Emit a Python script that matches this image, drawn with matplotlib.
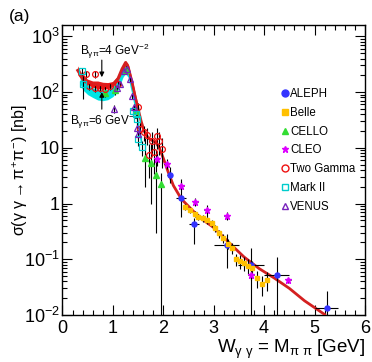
import numpy as np
import matplotlib.pyplot as plt
from matplotlib.lines import Line2D
from matplotlib.ticker import FixedLocator, FixedFormatter, MultipleLocator, NullFormatter

plt.rcParams['font.family'] = ['Liberation Sans', 'DejaVu Sans']
plt.rcParams['mathtext.fontset'] = 'custom'
plt.rcParams['mathtext.rm'] = 'Liberation Sans'
plt.rcParams['mathtext.it'] = 'Liberation Sans'
plt.rcParams['mathtext.bf'] = 'Liberation Sans:bold'

# theory, B = 4 GeV^-2 (red) : band at low W, line everywhere
red_x = [0.30, 0.40, 0.50, 0.60, 0.70, 0.80, 0.90, 1.00, 1.10, 1.18, 1.25, 1.30, 1.38,
         1.45, 1.50, 1.56, 1.62, 1.70, 1.78, 1.85, 1.92, 2.00, 2.10, 2.20, 2.36, 2.60,
         2.80, 3.00, 3.30, 3.60, 3.90, 4.20, 4.50, 4.80, 5.20]
red_y = [245, 175, 150, 137, 132, 128, 128, 138, 175, 260, 340, 290, 150,
         77, 50, 30, 20, 15, 13.5, 12.5, 10, 6.5, 3.6, 2.1, 1.2, 0.72,
         0.5, 0.37, 0.2, 0.11, 0.068, 0.046, 0.03, 0.018, 0.0102]
red_band_x = [0.30, 0.40, 0.50, 0.60, 0.70, 0.80, 0.90, 1.00, 1.10, 1.20, 1.25, 1.30, 1.38, 1.45, 1.50]
red_band_lo = [205, 155, 135, 122, 115, 112, 115, 125, 158, 245, 295, 255, 128, 65, 42]
red_band_hi = [295, 200, 170, 158, 158, 150, 148, 155, 195, 310, 370, 325, 172, 90, 58]

# theory, B = 6 GeV^-2 (cyan band)
cyan_x = [0.35, 0.40, 0.50, 0.60, 0.70, 0.80, 0.90, 1.00, 1.10, 1.20, 1.25, 1.30, 1.38, 1.45, 1.50, 1.55]
cyan_lo = [140, 110, 90, 80, 72, 70, 73, 83, 108, 185, 215, 185, 88, 40, 20, 12]
cyan_hi = [235, 170, 135, 120, 112, 110, 112, 125, 160, 270, 300, 260, 130, 60, 32, 18]

# ALEPH
aleph_x = [2.13, 2.36, 2.61, 3.26, 3.74, 4.25, 5.24]
aleph_y = [3.3, 1.25, 0.43, 0.18, 0.079, 0.052, 0.0133]
aleph_xe = [0.05, 0.10, 0.10, 0.25, 0.25, 0.25, 0.23]
aleph_lo = [2.3, 0.58, 0.19, 0.07, 0.001, 0.001, 0.001]
aleph_hi = [4.6, 2.8, 0.54, 0.28, 0.157, 0.11, 0.027]

# Belle
belle_x = [2.43, 2.53, 2.63, 2.69, 2.78, 2.86, 2.96, 3.03, 3.11, 3.19,
           3.29, 3.36, 3.44, 3.52, 3.60, 3.69, 3.75, 3.85, 3.95, 4.05]
belle_y = [0.87, 0.76, 0.66, 0.58, 0.54, 0.50, 0.44, 0.36, 0.29, 0.24,
           0.19, 0.157, 0.10, 0.093, 0.085, 0.077, 0.069, 0.046, 0.036, 0.043]
belle_rel = [0.12, 0.12, 0.12, 0.13, 0.14, 0.15, 0.15, 0.16, 0.17, 0.18,
             0.2, 0.22, 0.25, 0.27, 0.28, 0.3, 0.32, 0.35, 0.38, 0.38]

# CELLO
cello_x = [0.85, 1.05, 1.25, 1.45, 1.64, 1.75, 1.86, 1.96]
cello_y = [95, 110, 250, 45, 6.5, 5.3, 3.3, 2.27]
cello_lo = [80, 90, 210, 35, 2.0, 1.0, 0.3, 0.001]
cello_hi = [110, 130, 290, 55, 15, 12, 9.0, 3.5]

# CLEO
cleo_x = [1.87, 2.07, 2.36, 2.63, 2.86, 3.26, 3.74, 4.48]
cleo_y = [6.4, 5.2, 2.1, 1.07, 0.76, 0.6, 0.052, 0.042]
cleo_rel = [0.25, 0.2, 0.15, 0.15, 0.25, 0.15, 0.2, 0.1]

# Two Gamma
tg_x = [0.47, 0.53, 0.64, 0.64, 0.75, 0.85, 0.94, 1.10, 1.49, 1.54,
        1.62, 1.67, 1.72, 1.77, 1.82, 1.87, 1.92, 1.97]
tg_y = [209, 126, 116, 210, 118, 112, 126, 139, 53, 22,
        19, 17, 7.3, 13.5, 8.4, 16, 13.5, 9.6]
tg_rel = [0.15, 0.15, 0.15, 0.15, 0.15, 0.15, 0.15, 0.15, 0.2, 0.25,
          0.3, 0.35, 0.6, 0.45, 0.6, 0.4, 0.45, 0.55]

# Mark II
mk_x = [0.38, 0.40, 1.40, 1.45, 1.47, 1.50, 1.57]
mk_y = [240, 139, 46, 40, 33, 14.5, 10.3]
mk_rel = [0.15, 0.45, 0.15, 0.15, 0.2, 0.25, 0.3]

# VENUS
ve_x = [1.02, 1.08, 1.15, 1.22, 1.28, 1.34, 1.37, 1.42, 1.47, 1.50]
ve_y = [50, 118, 139, 240, 257, 170, 86, 53, 23, 17.7]
ve_rel = [0.15, 0.1, 0.1, 0.1, 0.1, 0.1, 0.12, 0.15, 0.2, 0.2]

labels = ["ALEPH", "Belle", "CELLO", "CLEO", "Two Gamma", "Mark II", "VENUS"]

fig = plt.figure(figsize=(3.72, 3.62), dpi=100)
ax = fig.add_axes([0.168, 0.130, 0.813, 0.801])

ax.fill_between(cyan_x, cyan_lo, cyan_hi, color='#00e5e5', lw=0, zorder=2)
ax.fill_between(red_band_x, red_band_lo, red_band_hi, color='#e31b1b', lw=0, zorder=3)
ax.plot(red_x, red_y, color='#d42020', lw=2.0, zorder=3)


def rel_err(y, rel):
    y = np.array(y)
    return [y * np.array(rel), y * np.array(rel)]


ebkw = dict(ls='none', ecolor='black', elinewidth=0.8, capsize=0, zorder=4)
ax.errorbar(aleph_x, aleph_y, xerr=aleph_xe,
            yerr=[np.array(aleph_y) - np.array(aleph_lo), np.array(aleph_hi) - np.array(aleph_y)],
            marker='o', ms=3.6, mfc='#3333ff', mec='#3333ff', **ebkw)
ax.errorbar(belle_x, belle_y, yerr=rel_err(belle_y, belle_rel),
            marker='s', ms=3.0, mfc='#ffc000', mec='#ffc000', **ebkw)
ax.errorbar(cello_x, cello_y,
            yerr=[np.array(cello_y) - np.array(cello_lo), np.array(cello_hi) - np.array(cello_y)],
            marker='^', ms=3.8, mfc='#33dd33', mec='#33dd33', **ebkw)
ax.errorbar(cleo_x, cleo_y, xerr=0.05, yerr=rel_err(cleo_y, cleo_rel),
            marker='*', ms=5, mfc='#dd00ff', mec='#dd00ff', **ebkw)
ax.errorbar(tg_x, tg_y, yerr=rel_err(tg_y, tg_rel),
            marker='o', ms=4.2, mfc='none', mec='#ee1111', mew=0.9, **ebkw)
ax.errorbar(mk_x, mk_y, yerr=rel_err(mk_y, mk_rel),
            marker='s', ms=3.8, mfc='none', mec='#00cccc', mew=0.9, **ebkw)
ax.errorbar(ve_x, ve_y, yerr=rel_err(ve_y, ve_rel),
            marker='^', ms=4.2, mfc='none', mec='#7722bb', mew=0.9, **ebkw)

handles = [
    Line2D([], [], ls='none', marker='o', ms=5, mfc='#3333ff', mec='#3333ff'),
    Line2D([], [], ls='none', marker='s', ms=4.5, mfc='#ffc000', mec='#ffc000'),
    Line2D([], [], ls='none', marker='^', ms=5, mfc='#33dd33', mec='#33dd33'),
    Line2D([], [], ls='none', marker='*', ms=5, mfc='#dd00ff', mec='#dd00ff'),
    Line2D([], [], ls='none', marker='o', ms=5, mfc='none', mec='#ee1111', mew=1),
    Line2D([], [], ls='none', marker='s', ms=5, mfc='none', mec='#00cccc', mew=1),
    Line2D([], [], ls='none', marker='^', ms=5, mfc='none', mec='#7722bb', mew=1),
]
ax.legend(handles, labels, loc='upper left', bbox_to_anchor=(0.757, 0.757),
          bbox_transform=fig.transFigure, frameon=False, fontsize=8.3,
          handlelength=0.6, handletextpad=0.15, labelspacing=0.59, borderpad=0,
          borderaxespad=0)

# annotation arrows
ax.annotate("", xy=(0.78, 165), xytext=(0.78, 420),
            arrowprops=dict(arrowstyle='-|>', color='black', lw=0.8, mutation_scale=7), zorder=6)
ax.annotate("", xy=(0.78, 112), xytext=(0.78, 44),
            arrowprops=dict(arrowstyle='-|>', color='black', lw=0.8, mutation_scale=7), zorder=6)
ax.text(0.35, 540, r"B$_{\gamma\pi}$=4 GeV$^{-2}$", fontsize=8.5, va='center', ha='left', zorder=6)
ax.text(0.15, 30, r"B$_{\gamma\pi}$=6 GeV$^{-2}$", fontsize=8.5, va='center', ha='left', zorder=1)

ax.set_yscale('log')
ax.set_xlim(0, 6)
ax.set_ylim(0.01, 1600)

ax.xaxis.set_major_locator(MultipleLocator(1))
ax.xaxis.set_minor_locator(MultipleLocator(0.2))
ax.yaxis.set_major_locator(FixedLocator([0.01, 0.1, 1, 10, 100, 1000]))
ax.yaxis.set_major_formatter(FixedFormatter(["10$^{-2}$", "10$^{-1}$", "1", "10", "10$^{2}$", "10$^{3}$"]))
ax.yaxis.set_minor_formatter(NullFormatter())
ax.tick_params(which='both', direction='in', top=True, right=True, labelsize=13, width=0.8)
ax.tick_params(which='major', length=7, pad=2)
ax.tick_params(axis='x', which='major', pad=4)
ax.tick_params(which='minor', length=3.5)
for s in ax.spines.values():
    s.set_linewidth(1.0)

ax.set_xlabel(r"W$_{\gamma\ \gamma}$ = M$_{\pi\ \pi}$ [GeV]", fontsize=13.5, loc='right', labelpad=0)
ax.set_ylabel(r"$\sigma$($\gamma\ \gamma\rightarrow\pi^{+}\pi^{-}$) [nb]", fontsize=11.5)
ax.yaxis.set_label_coords(-0.108, 0.5)

fig.text(0.025, 0.955, "(a)", fontsize=12.5, va='center', ha='left')

fig.savefig("out.png", dpi=100)
